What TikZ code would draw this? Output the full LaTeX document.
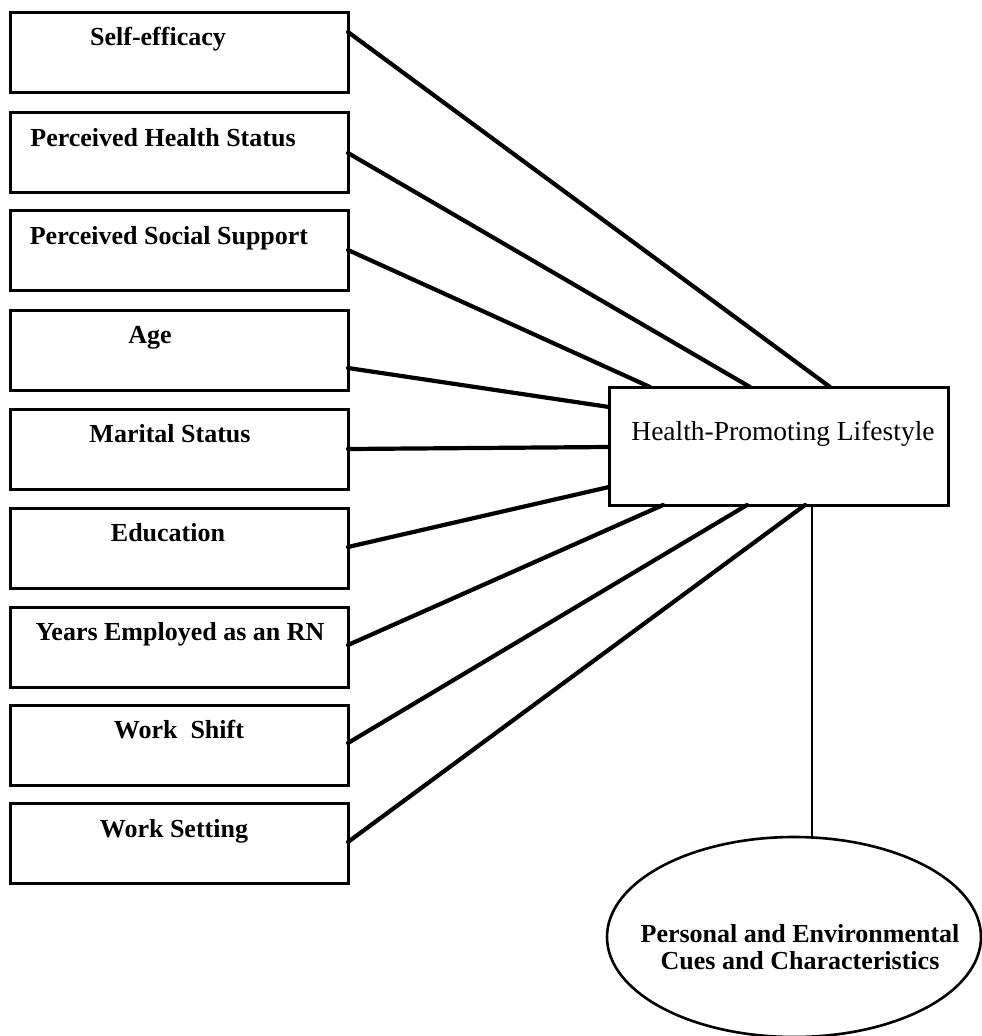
\documentclass[tikz,border=0pt]{standalone}
\usepackage{fontspec}
\setmainfont{Liberation Serif}
\usetikzlibrary{shapes.geometric}
\begin{document}
\begin{tikzpicture}[x=1pt,y=-1pt,
  varbox/.style={draw,line width=3pt,rectangle,minimum width=338pt,minimum height=80pt,inner sep=0pt,outer sep=0pt},
  vartext/.style={anchor=base,inner sep=0pt,font=\fontsize{26}{28}\selectfont\bfseries},
  link/.style={line width=4.2pt,line cap=round},
  mainbox/.style={draw,line width=3pt,rectangle,minimum width=339pt,minimum height=118pt,inner sep=0pt,outer sep=0pt},
  cuebox/.style={draw,line width=2.6pt,ellipse,minimum width=374pt,minimum height=200pt,inner sep=0pt,outer sep=0pt}]
\useasboundingbox (0,0) rectangle (982,1036);
\fill[white] (0,0) rectangle (982,1036);

% left boxes
\node[varbox] (b1) at (179,52) {};
\node[varbox] (b2) at (179,152) {};
\node[varbox] (b3) at (179,250) {};
\node[varbox] (b4) at (179,350) {};
\node[varbox] (b5) at (179,449) {};
\node[varbox] (b6) at (179,548) {};
\node[varbox] (b7) at (179,647) {};
\node[varbox] (b8) at (179,745) {};
\node[varbox] (b9) at (179,843) {};

\node[vartext] (t1) at (158,45) {Self-efficacy};
\node[vartext] (t2) at (163,146) {Perceived Health Status};
\node[vartext] (t3) at (169,244) {Perceived Social Support};
\node[vartext] (t4) at (150,343) {Age};
\node[vartext] (t5) at (170,442) {Marital Status};
\node[vartext] (t6) at (168,541) {Education};
\node[vartext] (t7) at (180,640) {Years Employed as an RN};
\node[vartext] (t8) at (179,738) {Work\ \ Shift};
\node[vartext] (t9) at (174,837) {Work Setting};

% main box
\node[mainbox] (hpl) at (778.5,446) {};
\node[anchor=base,inner sep=0pt,font=\fontsize{27.5}{30}\selectfont] (hplt) at (783,440) {Health-Promoting Lifestyle};

% ellipse
\node[cuebox] (cue) at (794,937) {};
\node[align=center,inner sep=0pt,font=\fontsize{26}{27}\selectfont\bfseries] (cuet) at (800,947) {Personal and Environmental\\Cues and Characteristics};

% connectors
\draw[link] ([yshift=-20pt]b1.north east) -- ([xshift=221pt]hpl.north west);
\draw[link] ([yshift=-41pt]b2.north east) -- ([xshift=141pt]hpl.north west);
\draw[link] ([yshift=-40pt]b3.north east) -- ([xshift=41pt]hpl.north west);
\draw[link] ([yshift=-58pt]b4.north east) -- ([yshift=-20pt]hpl.north west);
\draw[link] ([yshift=-40pt]b5.north east) -- ([yshift=-60pt]hpl.north west);
\draw[link] ([yshift=-39pt]b6.north east) -- ([yshift=-100pt]hpl.north west);
\draw[link] ([yshift=-38pt]b7.north east) -- ([xshift=54pt]hpl.south west);
\draw[link] ([yshift=-38pt]b8.north east) -- ([xshift=138pt]hpl.south west);
\draw[link] ([yshift=-39pt]b9.north east) -- ([xshift=196pt]hpl.south west);
\draw[line width=2.2pt] ([xshift=203pt]hpl.south west) -- ([xshift=18pt]cue.north);
\end{tikzpicture}
\end{document}
